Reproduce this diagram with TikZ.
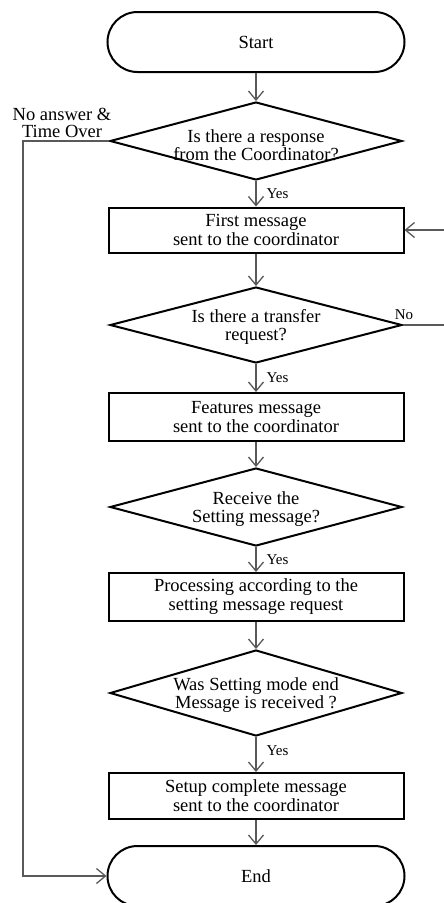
\documentclass[tikz,border=0pt]{standalone}
\usepackage{fontspec}
\setmainfont{Liberation Serif}
\usetikzlibrary{shapes.geometric,arrows.meta}
\tikzset{
  shp/.style={draw=black, line width=2pt, inner sep=0pt, font=\fontsize{18.5}{19}\selectfont, align=center},
  term/.style={shp, rectangle, rounded corners=30pt, minimum width=297pt, minimum height=60pt},
  dia/.style={shp, diamond, minimum width=292pt, minimum height=78pt},
  proc/.style={shp, rectangle, minimum width=295pt, minimum height=46pt},
  txt/.style={font=\fontsize{18.5}{18.5}\selectfont, align=center, inner sep=0pt},
  lbl/.style={font=\fontsize{15}{15}\selectfont, inner sep=0pt},
  conn/.style={draw=black!65, line width=1.3pt, -{Straight Barb[length=9pt,width=15pt,line width=1.3pt]}},
  plain/.style={draw=black!65, line width=1.3pt}
}
\begin{document}
\begin{tikzpicture}[x=1pt,y=-1pt]
\useasboundingbox (0,0) rectangle (444,903);
\node[term] (start) at (256,42) {Start};
\node[dia] (d1) at (256,141) {};
\node[txt] (d1t) at (256,145) {Is there a response\\from the Coordinator?};
\node[proc, minimum height=45pt] (b1) at (256,230) {First message\\sent to the coordinator};
\node[dia, minimum height=76pt] (d2) at (256,325) {};
\node[txt] (d2t) at (256,327) {Is there a transfer\\request?};
\node[proc, minimum height=48pt] (b2) at (256,417) {Features message\\sent to the coordinator};
\node[dia] (d3) at (256,507) {};
\node[txt] (d3t) at (256,509) {Receive the\\Setting message?};
\node[proc, minimum height=48pt] (b3) at (256,597) {Processing according to the\\setting message request};
\node[dia, minimum height=86pt] (d4) at (256,693) {};
\node[txt] (d4t) at (256,695) {Was Setting mode end\\Message is received ?};
\node[proc, minimum height=46pt] (b4) at (256,796) {Setup complete message\\sent to the coordinator};
\node[term] (end) at (256,876) {End};

\coordinate (lt) at (23,141);
\coordinate (lb) at (23,876);
\coordinate (rno) at (446,325);
\coordinate (rin) at (446,230);

\draw[conn] (start) -- (d1);
\draw[conn] (d1) -- node[lbl, anchor=west, xshift=10pt, pos=0.5] (y1) {Yes} (b1);
\draw[conn] (b1) -- (d2);
\draw[conn] (d2) -- node[lbl, anchor=west, xshift=10pt, pos=0.5] (y2) {Yes} (b2);
\draw[conn] (b2) -- (d3);
\draw[conn] (d3) -- node[lbl, anchor=west, xshift=10pt, pos=0.5] (y3) {Yes} (b3);
\draw[conn] (b3) -- (d4);
\draw[conn] (d4) -- node[lbl, anchor=west, xshift=10pt, pos=0.4] (y4) {Yes} (b4);
\draw[conn] (b4) -- (end);
\draw[conn] (d1.west) -- (lt) -- (lb) -- (end.west);
\draw[plain] (d2.east) -- (rno);
\draw[conn] (rin) -- (b1.east);
\node[lbl, anchor=south] (no) at (404,320) {No};
\node[txt, font=\fontsize{18.5}{17}\selectfont] (noans) at (62,123) {No answer \&\\Time Over};
\end{tikzpicture}
\end{document}
